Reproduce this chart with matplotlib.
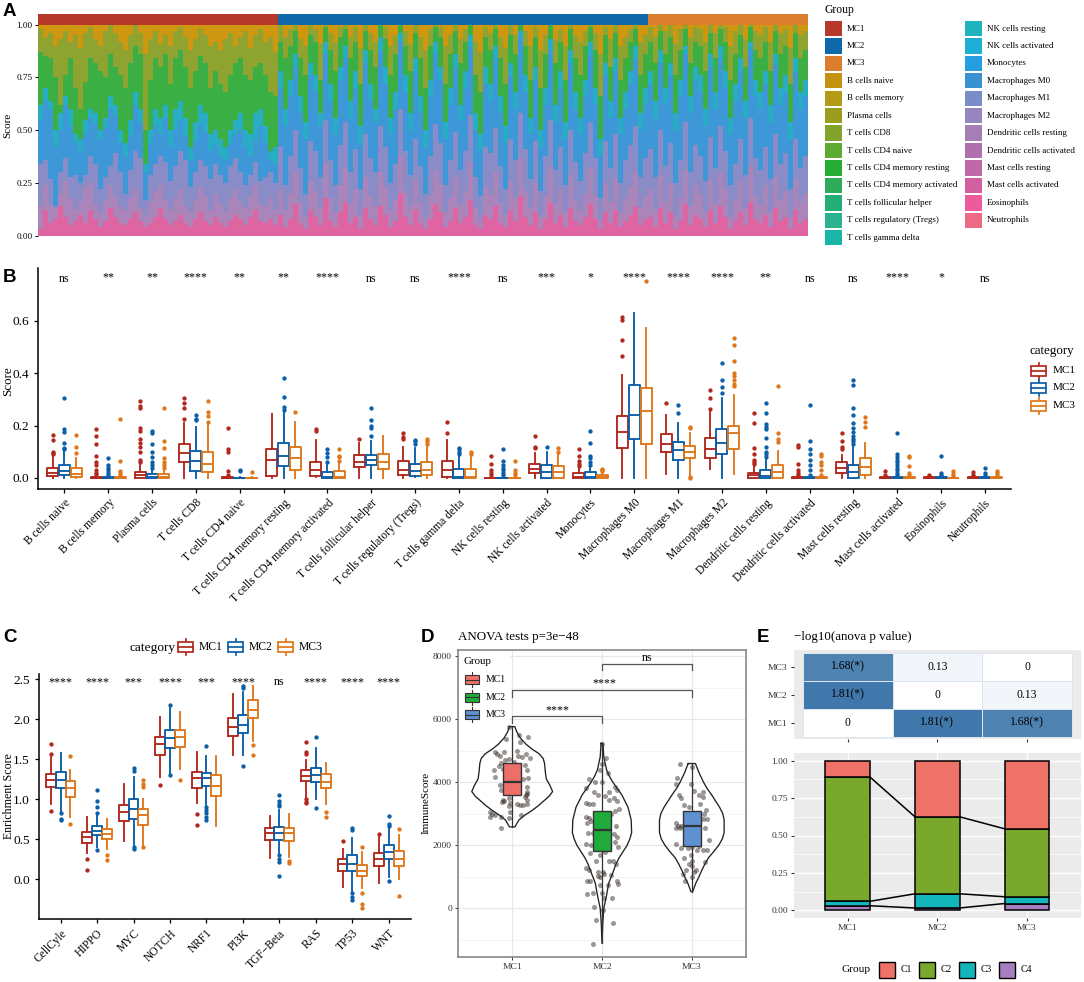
# -*- coding: utf-8 -*-
import matplotlib
matplotlib.use('Agg')
import matplotlib.pyplot as plt
import numpy as np
from matplotlib.colors import LinearSegmentedColormap
from matplotlib.patches import Rectangle

plt.rcParams['font.family'] = ['Liberation Serif', 'DejaVu Serif']

WIDTH, HEIGHT = 1084, 982
GROUPS = ['MC1', 'MC2', 'MC3']
GROUP_COLORS = ['#B2281C', '#0A5FA8', '#E0761A']

# Panel A: legend
LEGEND_A_NAMES = ['MC1', 'MC2', 'MC3', 'B cells naive', 'B cells memory', 'Plasma cells',
                  'T cells CD8', 'T cells CD4 naive', 'T cells CD4 memory resting',
                  'T cells CD4 memory activated', 'T cells follicular helper',
                  'T cells regulatory (Tregs)', 'T cells gamma delta', 'NK cells resting',
                  'NK cells activated', 'Monocytes', 'Macrophages M0', 'Macrophages M1',
                  'Macrophages M2', 'Dendritic cells resting', 'Dendritic cells activated',
                  'Mast cells resting', 'Mast cells activated', 'Eosinophils', 'Neutrophils']
LEGEND_A_COLORS = ['#B5382A', '#0E68AA', '#DB7E2E', '#C4920F', '#B39B17', '#9C9C1F',
                   '#81A32B', '#5FAA32', '#25AE33', '#2FAC5A', '#23AE77', '#2BB28F',
                   '#18B5A8', '#1FB3BE', '#1DAED6', '#249EE0', '#3A92D1', '#7A8DC8',
                   '#9686C0', '#A57EB5', '#B070AE', '#C067A8', '#D25FA0', '#EC5C9D', '#EC6A85']

# Panel A: samples per group, cumulative band tops (percent)
SAMPLES_PER_GROUP = [48, 74, 32]
BAND_COLORS = ['#DE64A2', '#A985BA', '#8A8CC8', '#3E97D6', '#29ADC4', '#3BAF44', '#8FA430', '#CF960F']
TOP_PINK = [3, 12, 6, 8, 14, 9, 5, 7, 10, 6, 12, 8, 4, 7, 13, 9, 6, 5, 8, 11, 7, 4, 6, 9, 13, 8, 5, 7, 10, 6,
            4, 8, 11, 7, 5, 9, 6, 4, 7, 10, 8, 5, 9, 12, 7, 6, 8, 5,
            10, 4, 8, 15, 6, 3, 12, 9, 5, 18, 7, 4, 11, 16, 6, 9, 3, 13, 8, 5, 14, 10, 4, 7, 20, 9, 5, 12, 6, 3,
            8, 15, 11, 4, 7, 13, 6, 9, 17, 5, 3, 10, 8, 14, 6, 4, 12, 7, 19, 9, 5, 11, 3, 8, 16, 6, 10, 4, 13, 7,
            5, 9, 15, 8, 3, 11, 6, 12, 4, 7, 10, 14, 5, 8,
            9, 4, 13, 6, 11, 3, 7, 15, 5, 10, 8, 4, 12, 6, 14, 9, 3, 7, 11, 5, 16, 8, 6, 10, 4, 13, 7, 9, 3, 12, 6, 8]
TOP_MAUVE = [14, 24, 15, 13, 20, 26, 18, 12, 16, 23, 25, 15, 11, 17, 24, 19, 14, 12, 18, 22, 13, 10, 16, 21, 24,
             17, 12, 18, 22, 14, 11, 17, 23, 19, 12, 20, 15, 11, 18, 22, 16, 13, 19, 24, 15, 14, 18, 12,
             22, 12, 20, 30, 16, 9, 26, 21, 13, 34, 18, 11, 24, 32, 15, 22, 10, 28, 19, 14, 30, 23, 12, 17, 38,
             21, 14, 27, 16, 9, 19, 31, 25, 11, 18, 28, 15, 21, 35, 13, 8, 23, 20, 30, 16, 10, 26, 18, 37, 21,
             13, 25, 9, 19, 33, 15, 22, 11, 29, 17, 12, 20, 32, 19, 8, 25, 16, 27, 11, 18, 23, 30, 13, 19,
             22, 12, 29, 16, 25, 10, 18, 31, 14, 24, 20, 11, 27, 15, 30, 22, 9, 17, 26, 13, 33, 19, 15, 24, 11,
             28, 17, 21, 9, 27, 16, 20]
TOP_PERIWINKLE = [34, 36, 27, 14, 30, 37, 28, 29, 25, 29, 38, 34, 22, 28, 33, 39, 30, 20, 31, 40, 37, 17, 29, 34,
                  38, 35, 26, 33, 40, 36, 23, 30, 36, 33, 27, 34, 29, 25, 33, 37, 30, 24, 29, 35, 26, 28, 30, 25,
                  42, 24, 38, 50, 32, 20, 45, 40, 28, 55, 36, 24, 43, 54, 30, 41, 22, 48, 37, 30, 52, 42, 25, 34,
                  60, 40, 29, 46, 33, 20, 38, 53, 44, 24, 36, 49, 31, 40, 57, 28, 19, 42, 39, 51, 33, 22, 46, 36,
                  58, 41, 27, 45, 21, 38, 55, 31, 42, 24, 50, 35, 26, 39, 54, 37, 18, 45, 32, 48, 25, 36, 43, 52,
                  28, 37,
                  41, 28, 50, 33, 44, 25, 36, 54, 30, 43, 38, 26, 47, 32, 52, 40, 24, 34, 46, 29, 56, 37, 31, 42,
                  27, 48, 34, 39, 22, 46, 32, 38]
TOP_BLUE = [55, 64, 60, 42, 50, 62, 52, 44, 40, 48, 56, 53, 46, 51, 60, 57, 44, 38, 47, 62, 54, 30, 44, 52, 48, 56,
            42, 50, 55, 47, 36, 45, 53, 49, 40, 43, 38, 36, 44, 48, 50, 42, 38, 46, 52, 44, 36, 34,
            70, 52, 66, 80, 58, 46, 76, 68, 52, 86, 64, 48, 74, 84, 56, 70, 44, 82, 65, 54, 88, 72, 48, 60, 92, 68,
            50, 78, 58, 42, 66, 86, 74, 46, 62, 80, 55, 70, 90, 50, 40, 72, 64, 84, 58, 44, 76, 60, 94, 68, 48, 74,
            42, 62, 88, 54, 70, 46, 82, 60, 48, 66, 86, 62, 38, 76, 56, 78, 48, 60, 72, 84, 50, 62,
            72, 56, 82, 62, 76, 50, 66, 86, 58, 74, 68, 52, 80, 60, 84, 70, 48, 64, 78, 56, 88, 66, 60, 72, 54, 82,
            62, 68, 46, 78, 60, 66]
TOP_TEAL = [62, 70, 64, 50, 58, 66, 60, 48, 46, 55, 60, 58, 50, 56, 66, 62, 50, 44, 55, 68, 60, 34, 50, 60, 56, 62,
            50, 60, 64, 56, 42, 54, 62, 58, 48, 50, 46, 42, 50, 55, 58, 50, 48, 58, 60, 52, 40, 42,
            78, 60, 74, 86, 66, 54, 82, 76, 58, 92, 72, 56, 80, 90, 64, 78, 52, 88, 72, 60, 94, 80, 56, 68, 96, 76,
            58, 84, 66, 50, 74, 92, 80, 54, 70, 86, 62, 78, 95, 58, 48, 80, 72, 90, 66, 52, 82, 68, 97, 76, 56, 80,
            50, 70, 93, 62, 78, 54, 88, 68, 56, 74, 92, 70, 46, 82, 64, 84, 56, 68, 78, 90, 58, 70,
            78, 64, 88, 70, 82, 58, 74, 90, 66, 80, 76, 60, 86, 68, 90, 78, 56, 72, 84, 64, 92, 74, 68, 78, 62, 86,
            70, 76, 54, 84, 68, 74]
TOP_GREEN = [87, 85, 84, 75, 62, 76, 84, 70, 60, 73, 84, 82, 78, 75, 86, 80, 76, 70, 82, 90, 86, 50, 74, 84, 80, 86,
             72, 84, 88, 80, 70, 78, 85, 82, 70, 78, 72, 68, 76, 82, 84, 76, 74, 80, 82, 76, 68, 66,
             92, 84, 90, 97, 84, 76, 95, 92, 74, 99, 88, 78, 94, 98, 84, 92, 72, 97, 88, 80, 100, 93, 76, 86, 100, 90,
             78, 96, 84, 70, 90, 99, 94, 72, 86, 97, 82, 92, 100, 76, 68, 94, 88, 98, 84, 72, 95, 86, 100, 90, 74, 94,
             70, 86, 100, 82, 92, 74, 98, 84, 76, 90, 99, 88, 66, 95, 80, 96, 74, 84, 92, 98, 76, 86,
             92, 82, 97, 86, 94, 76, 88, 98, 82, 92, 90, 78, 96, 84, 98, 92, 74, 86, 95, 80, 99, 88, 84, 92, 78, 97,
             86, 90, 72, 96, 84, 88]
TOP_OLIVE = [98, 94, 96, 90, 93, 97, 92, 95, 89, 96, 99, 93, 90, 97, 100, 96, 92, 88, 95, 100, 96, 86, 93, 97, 91, 95,
             90, 97, 99, 94, 88, 93, 98, 95, 90, 92, 88, 93, 96, 90, 94, 97, 89, 95, 98, 92, 94, 87,
             100, 94, 98, 100, 93, 90, 100, 98, 91, 100, 96, 92, 99, 100, 94, 99, 89, 100, 96, 92, 100, 99, 90, 95,
             100, 97, 91, 100, 94, 88, 98, 100, 99, 90, 95, 100, 93, 98, 100, 92, 87, 99, 96, 100, 94, 89, 100, 95,
             100, 97, 90, 99, 88, 95, 100, 93, 98, 90, 100, 95, 92, 97, 100, 96, 86, 99, 93, 100, 90, 94, 98, 100, 92, 95,
             99, 94, 100, 97, 100, 91, 98, 100, 94, 99, 98, 92, 100, 96, 100, 99, 90, 97, 100, 93, 100, 97, 95, 99,
             92, 100, 96, 98, 89, 100, 95, 97]

# Panel B: (whisker low, q1, median, q3, whisker high, outliers)
CELL_TYPES = LEGEND_A_NAMES[3:]
B_SIGNIF = ['ns', '**', '**', '****', '**', '**', '****', 'ns', 'ns', '****', 'ns', '***', '*',
            '****', '****', '****', '**', 'ns', 'ns', '****', '*', 'ns']
B_MC1 = [(0, .008, .02, .04, .08, [.09, .095, .10, .145, .165]),
         (0, 0, 0, .004, .01, [.015, .02, .03, .05, .06, .085, .13, .16, .185]),
         (0, 0, .01, .024, .05, [.06, .07, .1, .12, .135, .15, .18, .19, .265, .275, .295]),
         (0, .062, .095, .128, .21, [.225, .265, .285, .305]),
         (0, 0, 0, .002, .005, [.01, .025, .1, .11, .19]),
         (0, .008, .07, .11, .245, []),
         (.003, .007, .03, .062, .145, [.18, .185]),
         (0, .043, .06, .087, .135, [.15]),
         (0, .013, .032, .065, .12, [.15, .155, .17]),
         (0, .002, .032, .065, .145, [.17, .215]),
         (0, 0, 0, .001, .003, [.01, .02, .03, .055, .085]),
         (0, .018, .035, .055, .095, [.115, .12, .16]),
         (0, 0, .004, .02, .04, [.045, .055, .065, .083, .11]),
         (0, .115, .175, .237, .394, [.466, .525, .603, .613]),
         (.016, .10, .13, .166, .239, [.286]),
         (.035, .077, .111, .151, .25, [.262, .306, .334]),
         (0, 0, .01, .02, .05, [.055, .06, .07, .09, .115, .211, .246]),
         (0, 0, 0, .002, .005, [.01, .02, .03, .055, .12, .125]),
         (0, .018, .039, .061, .086, [.11, .12, .14, .171]),
         (0, 0, 0, .002, .005, [.012, .025]),
         (0, 0, 0, .002, .004, [.008, .012]),
         (0, 0, 0, .002, .004, [.008, .012, .024])]
B_MC2 = [(0, .01, .025, .048, .10, [.11, .115, .135, .175, .185, .305]),
         (0, 0, 0, .003, .008, [.012, .02, .03, .04, .05, .075]),
         (0, 0, .003, .014, .03, [.04, .05, .06, .08, .1, .13, .17, .18]),
         (0, .027, .064, .102, .195, [.22, .225, .24]),
         (0, 0, 0, .001, .003, [.025, .032]),
         (0, .045, .085, .132, .255, [.26, .27, .31, .38]),
         (0, 0, .003, .022, .05, [.06, .08, .095, .11]),
         (0, .048, .067, .087, .14, [.16, .19, .2, .22, .265]),
         (.002, .007, .025, .052, .115, [.13, .14, .145]),
         (0, 0, .003, .035, .08, [.09, .1, .11, .115]),
         (0, 0, 0, .001, .003, [.01, .02, .03, .04, .05, .065, .11]),
         (0, 0, .023, .048, .10, [.12]),
         (0, 0, .004, .022, .04, [.05, .06, .075, .085, .133, .178]),
         (0, .149, .239, .356, .627, []),
         (0, .068, .106, .139, .208, [.249, .278]),
         (0, .091, .133, .185, .305, [.324, .347, .372, .44]),
         (0, 0, .006, .032, .07, [.08, .09, .1, .12, .152, .185, .195, .204, .249, .287]),
         (0, 0, 0, .002, .005, [.01, .03, .05, .07, .09, .11, .142, .278]),
         (0, 0, .023, .049, .118, [.13, .14, .15, .16, .175, .19, .21, .24, .267, .356, .375]),
         (0, 0, 0, .003, .006, [.01, .02, .03, .04, .05, .06, .07, .08, .09, .17]),
         (0, 0, 0, .002, .004, [.008, .012, .02, .085]),
         (0, 0, 0, .002, .004, [.01, .02, .04])]
B_MC3 = [(0, .005, .015, .038, .075, [.095, .12, .165]),
         (0, 0, 0, .002, .005, [.01, .02, .025, .065, .225]),
         (0, 0, .004, .015, .03, [.04, .05, .06, .075, .115, .14, .265]),
         (0, .024, .055, .10, .205, [.215, .235, .25, .295]),
         (0, 0, 0, .001, .002, [.024]),
         (0, .032, .075, .12, .215, [.25]),
         (0, 0, .005, .025, .055, [.065, .08, .085, .11]),
         (0, .034, .062, .09, .16, []),
         (0, .01, .032, .06, .12, [.13, .14, .15]),
         (0, 0, .002, .034, .08, [.09, .10]),
         (0, 0, 0, .001, .002, [.01, .02, .03, .065]),
         (0, 0, .022, .044, .09, [.10, .115]),
         (0, 0, .002, .01, .02, [.025, .03, .035]),
         (0, .128, .254, .343, .571, [.752]),
         (.008, .075, .099, .122, .172, [0, .005, .19, .194]),
         (.016, .109, .171, .197, .318, [.349, .36, .375, .39, .40, .445, .508, .535]),
         (0, .001, .023, .049, .103, [.137, .15, .17, .349]),
         (0, 0, 0, .002, .005, [.01, .03, .05, .06, .085, .09]),
         (.001, .011, .043, .075, .135, [.195, .213, .233]),
         (0, 0, 0, .002, .005, [.01, .02, .045, .08, .085]),
         (0, 0, 0, .001, .003, [.008, .015, .025]),
         (0, 0, 0, .002, .004, [.01, .02, .025])]

# Panel C
PATHWAYS = ['CellCyle', 'HIPPO', 'MYC', 'NOTCH', 'NRF1', 'PI3K', 'TGF\u2212Beta', 'RAS', 'TP53', 'WNT']
C_SIGNIF = ['****', '****', '***', '****', '***', '****', 'ns', '****', '****', '****']
C_MC1 = [(.94, 1.158, 1.24, 1.317, 1.53, [.85, 1.56, 1.69]),
         (.33, .46, .533, .59, .775, [.12, .26]),
         (.485, .73, .845, .93, 1.19, []),
         (1.275, 1.555, 1.69, 1.775, 2.025, [1.18]),
         (.95, 1.14, 1.26, 1.345, 1.595, [.68, .82]),
         (1.55, 1.79, 1.905, 2.015, 2.32, []),
         (.27, .49, .575, .64, .795, []),
         (1.03, 1.225, 1.29, 1.36, 1.49, [.96, .97, 1.01, 1.56, 1.595, 1.72]),
         (-.09, .11, .19, .26, .385, [.48]),
         (-.04, .165, .255, .33, .555, [.565])]
C_MC2 = [(.846, 1.14, 1.24, 1.34, 1.58, [.74, .76, .83]),
         (.41, .55, .61, .667, .825, [.37, .83, .91, .98, 1.12]),
         (.43, .76, .875, 1.0, 1.28, [.38, .41, 1.35, 1.39]),
         (1.325, 1.64, 1.76, 1.86, 2.14, [1.30, 2.18]),
         (.93, 1.16, 1.26, 1.33, 1.545, [.74, .78, .825, .87, .91, 1.665]),
         (1.55, 1.83, 1.93, 2.055, 2.345, [1.42, 2.39, 2.42]),
         (.325, .495, .575, .66, .865, [.045, .22, .26, .30, .915, .94, .98, 1.05]),
         (1.0, 1.21, 1.30, 1.395, 1.64, [.895, 1.78]),
         (-.155, .11, .195, .30, .52, [-.26, -.22, -.175, .62, .64]),
         (.03, .255, .345, .43, .65, [-.02, .665, .69, .79])]
C_MC3 = [(.775, 1.03, 1.14, 1.23, 1.37, [.69, 1.54]),
         (.38, .51, .57, .63, .755, [.24, .31]),
         (.41, .68, .80, .875, 1.01, [.40, 1.15, 1.19, 1.24]),
         (1.375, 1.655, 1.78, 1.87, 2.095, [1.24]),
         (.67, 1.04, 1.17, 1.305, 1.54, []),
         (1.73, 2.02, 2.115, 2.245, 2.42, [1.55, 1.675]),
         (.28, .475, .575, .64, .82, [.20, .235]),
         (.945, 1.145, 1.21, 1.31, 1.45, [.785, .84]),
         (-.11, .045, .11, .185, .345, [-.36, -.31, -.165, .41]),
         (.01, .17, .25, .36, .56, [-.205, .63])]

# Panel D: violin outlines as (score, half width)
VIOLIN_MC1 = [(5760, .03), (5600, .05), (5400, .09), (5200, .155), (5050, .22), (4900, .30), (4750, .345),
              (4600, .36), (4300, .37), (4100, .38), (3900, .42), (3700, .45), (3550, .41), (3400, .35),
              (3250, .29), (3100, .22), (2950, .14), (2800, .075), (2580, .03)]
VIOLIN_MC2 = [(5230, .01), (4800, .02), (4400, .05), (4200, .08), (4000, .12), (3800, .17), (3600, .22),
              (3200, .29), (2800, .325), (2400, .33), (2200, .31), (2000, .28), (1800, .235), (1600, .19),
              (1400, .155), (1200, .13), (800, .075), (400, .05), (0, .02), (-500, .008), (-1110, 0)]
VIOLIN_MC3 = [(4590, .04), (4450, .06), (4300, .08), (4000, .13), (3800, .17), (3600, .22), (3400, .265),
              (3200, .31), (3000, .345), (2800, .36), (2400, .36), (2200, .34), (2000, .30), (1800, .245),
              (1600, .185), (1400, .145), (1200, .11), (1000, .08), (800, .045), (530, .01)]
# (q1, median, q3), whiskers run the full violin
D_BOXES = [(3594, 4020, 4620), (1820, 2490, 3090), (1980, 2600, 3080)]
D_FILLS = ['#EE6F68', '#1FAA3C', '#5F90D0']
D_DOTS_MC1 = [(-.04, 5740), (.08, 5480), (.18, 5430), (-.07, 5380), (.09, 5280), (-.09, 4950), (-.19, 4950),
              (-.17, 4880), (.15, 4880), (-.14, 4830), (.05, 4980), (.2, 4780), (.07, 4820), (-.08, 4700),
              (-.03, 4720), (-.12, 4600), (.02, 4650), (.14, 4530), (-.2, 4380), (-.15, 4500), (-.1, 4420),
              (.17, 4370), (-.19, 4150), (-.07, 4200), (.18, 4130), (.12, 4100), (-.14, 3920), (.03, 4180),
              (.17, 3850), (-.12, 3750), (.16, 3680), (.07, 3790), (.17, 3620), (-.1, 3440), (-.03, 3490),
              (.14, 3530), (-.09, 3400), (-.02, 3330), (.05, 3300), (.12, 3290), (.17, 3300), (-.04, 3230),
              (.09, 3280), (-.25, 3050), (-.22, 2990), (-.19, 2950), (.1, 2970), (-.02, 3050), (-.25, 2890),
              (-.04, 2870), (-.12, 2880), (-.13, 2560), (.15, 3590), (.16, 3420), (-.11, 3380), (.11, 4800)]
D_DOTS_MC2 = [(.0, 5200), (.04, 4760), (.0, 4560), (-.02, 4400), (.07, 4300), (-.14, 4100), (-.08, 4000), (.0, 4000),
              (.15, 3840), (-.18, 3800), (-.09, 3680), (.08, 3700), (.17, 3750), (.03, 3560), (-.04, 3600),
              (.13, 3500), (-.18, 3330), (-.14, 3300), (-.1, 3300), (.17, 3400), (.08, 3420), (-.18, 2900),
              (-.14, 2850), (.14, 3100), (.19, 3150), (.1, 3000), (-.17, 2700), (-.12, 2780), (.16, 2600),
              (-.16, 2400), (-.1, 2400), (.13, 2340), (.17, 2250), (-.18, 2030), (-.12, 2000), (.14, 2100),
              (.18, 1930), (-.13, 1750), (-.07, 1500), (.08, 1500), (.12, 1510), (.16, 1410), (-.18, 1280),
              (-.14, 1220), (-.05, 1150), (.01, 1150), (.02, 1100), (.1, 1040), (-.04, 1030), (-.02, 1000),
              (-.17, 850), (-.13, 870), (.17, 850), (.18, 780), (-.1, 500), (-.17, 440), (.0, 500), (.07, 740),
              (-.02, 730), (.11, 330), (-.09, 30), (.01, -50), (-.07, -380), (.12, -480), (-.1, -1120), (.02, 320),
              (.05, 2600), (-.03, 2900), (.06, 2200), (-.06, 2100), (-.02, 1700), (.03, 1800)]
D_DOTS_MC3 = [(-.13, 4570), (.0, 4470), (-.17, 4140), (-.18, 3950), (-.01, 3950), (.02, 3730), (-.14, 3580),
              (-.12, 3500), (.12, 3690), (.08, 3580), (.13, 3520), (.09, 3300), (-.09, 3280), (.16, 3130),
              (.14, 3000), (-.03, 3200), (.17, 2840), (.12, 2830), (-.18, 2700), (-.13, 2560), (-.15, 2620),
              (.15, 2540), (.08, 2640), (-.18, 2550), (-.12, 2620), (.19, 2180), (.08, 1990), (.12, 1850),
              (.17, 1850), (-.18, 2050), (-.12, 1920), (-.04, 1900), (.06, 1850), (.0, 1950), (-.01, 1700),
              (-.09, 1580), (.0, 1510), (.15, 1480), (-.03, 1420), (.0, 1350), (-.06, 1200), (.05, 1200),
              (.02, 1150), (-.1, 1100), (.0, 1000), (-.08, 850)]

# Panel E
HEAT_VALUES = [[0, 1.81, 1.68], [1.81, 0, 0.13], [1.68, 0.13, 0]]
HEAT_LABELS = [['0', '1.81(*)', '1.68(*)'], ['1.81(*)', '0', '0.13'], ['1.68(*)', '0.13', '0']]
CLUSTERS = ['C1', 'C2', 'C3', 'C4']
CLUSTER_COLORS = ['#EE7267', '#7AA82C', '#15B5BC', '#A77FC0']
CLUSTER_C1 = [.11, .375, .455]
CLUSTER_C2 = [.83, .515, .455]
CLUSTER_C3 = [.03, .095, .045]
CLUSTER_C4 = [.03, .015, .045]


def px_axes(fig, left, top, right, bottom):
    """Add axes from pixel edges measured from the top left corner."""
    return fig.add_axes([left / WIDTH, 1 - bottom / HEIGHT,
                         (right - left) / WIDTH, (bottom - top) / HEIGHT])


def draw_grouped_boxes(ax, groups_stats, width):
    """Draw three dodged boxplots per category from summary statistics."""
    for offset, stats, color in zip([-.27, 0, .27], groups_stats, GROUP_COLORS):
        rows = [dict(whislo=s[0], q1=s[1], med=s[2], q3=s[3], whishi=s[4], fliers=s[5]) for s in stats]
        positions = [i + 1 + offset for i in range(len(rows))]
        line = dict(color=color, linewidth=1.35)
        ax.bxp(rows, positions=positions, widths=width, showcaps=False, manage_ticks=False,
               boxprops=line, medianprops=line, whiskerprops=line,
               flierprops=dict(marker='o', markersize=2.1, markerfacecolor=color,
                               markeredgecolor=color, linewidth=0))


def classic_axes(ax, labels):
    """Left and bottom lines only, with rotated category labels."""
    ax.spines['top'].set_visible(False)
    ax.spines['right'].set_visible(False)
    ax.spines['left'].set_linewidth(1.1)
    ax.spines['bottom'].set_linewidth(1.1)
    ax.set_xlim(0.4, len(labels) + 0.6)
    ax.set_xticks(range(1, len(labels) + 1))
    ax.set_xticklabels(labels, rotation=45, ha='right', rotation_mode='anchor')
    ax.tick_params(axis='both', length=3, width=.9, labelsize=9.6)
    ax.tick_params(axis='x', labelsize=8.3, pad=3)


def box_key(overlay, x, y, color, edge=None, width=15, height=11, lw=1.25):
    """Legend key shaped like a small boxplot."""
    edge = edge or color
    overlay.plot([x + width / 2] * 2, [y - height / 2 - 3, y + height / 2 + 3], color=edge, lw=lw, zorder=3)
    overlay.add_patch(Rectangle((x, y - height / 2), width, height, facecolor=color, edgecolor=edge, lw=lw, zorder=4))
    overlay.plot([x, x + width], [y, y], color=edge, lw=lw, zorder=5)


def plot_panel_a(fig):
    ax = px_axes(fig, 37.7, 24.7, 808, 235.7)
    total = sum(SAMPLES_PER_GROUP)
    positions = np.arange(total)
    tops = [TOP_PINK, TOP_MAUVE, TOP_PERIWINKLE, TOP_BLUE, TOP_TEAL, TOP_GREEN, TOP_OLIVE, [100] * total]
    bottom = np.zeros(total)
    for top, color in zip(tops, BAND_COLORS):
        top = np.array(top) / 100
        ax.bar(positions, top - bottom, bottom=bottom, width=1.0, color=color, linewidth=0)
        bottom = top
    start = 0
    for count, color in zip(SAMPLES_PER_GROUP, LEGEND_A_COLORS):
        ax.bar(range(start, start + count), [.049] * count, bottom=1.0, width=1.0,
               color=color, linewidth=0, clip_on=False)
        start += count
    ax.set_xlim(-.5, total - .5)
    ax.set_ylim(0, 1)
    ax.set_xticks([])
    ax.set_yticks([0, .25, .5, .75, 1])
    ax.set_yticklabels(['0.00', '0.25', '0.50', '0.75', '1.00'])
    ax.tick_params(axis='y', length=2, width=.7, labelsize=6.6, pad=1.5)
    for spine in ax.spines.values():
        spine.set_visible(False)


def plot_panel_b(fig):
    ax = px_axes(fig, 38.1, 268, 1011.3, 488.5)
    draw_grouped_boxes(ax, [B_MC1, B_MC2, B_MC3], .25)
    classic_axes(ax, CELL_TYPES)
    ax.set_ylim(-.04, .8)
    ax.set_yticks([0, .2, .4, .6])
    ax.set_yticklabels(['0.0', '0.2', '0.4', '0.6'])
    for i, label in enumerate(B_SIGNIF):
        ax.text(i + 1, .757 if label == 'ns' else .766, label, ha='center', va='center', fontsize=8.6)


def plot_panel_c(fig):
    ax = px_axes(fig, 38.7, 674, 410.7, 919)
    draw_grouped_boxes(ax, [C_MC1, C_MC2, C_MC3], .27)
    classic_axes(ax, PATHWAYS)
    ax.set_ylim(-.496, 2.566)
    ax.set_yticks([0, .5, 1, 1.5, 2, 2.5])
    ax.set_yticklabels(['0.0', '0.5', '1.0', '1.5', '2.0', '2.5'])
    for i, label in enumerate(C_SIGNIF):
        ax.text(i + 1, 2.46, label, ha='center', va='center', fontsize=8.6)


def plot_panel_d(fig):
    ax = px_axes(fig, 458.3, 650, 745.7, 956.7)
    ax.set_xlim(.4, 3.6)
    ax.set_ylim(-1535, 8190)
    ax.set_xticks([1, 2, 3])
    ax.set_xticklabels(GROUPS)
    ax.set_yticks([0, 2000, 4000, 6000, 8000])
    ax.set_yticks([-1000, 1000, 3000, 5000, 7000], minor=True)
    ax.grid(which='major', color='#E8E8E8', lw=.9)
    ax.grid(which='minor', color='#F0F0F0', lw=.5)
    ax.set_axisbelow(True)
    ax.tick_params(axis='both', which='major', length=2.5, width=.7, labelsize=6.8, colors='#333333', pad=2)
    ax.tick_params(which='minor', length=0)
    for spine in ax.spines.values():
        spine.set_color('#7F7F7F')
        spine.set_linewidth(1.1)

    violins = [VIOLIN_MC1, VIOLIN_MC2, VIOLIN_MC3]
    dots = [D_DOTS_MC1, D_DOTS_MC2, D_DOTS_MC3]
    for i, (violin, pts, box, fill) in enumerate(zip(violins, dots, D_BOXES, D_FILLS)):
        pos = i + 1
        scores = [v[0] for v in violin]
        half = [v[1] for v in violin]
        ax.plot([pos - h for h in half] + [pos + h for h in half[::-1]] + [pos - half[0]],
                scores + scores[::-1] + [scores[0]], color='#222222', lw=.95, zorder=2)
        ax.scatter([pos + p[0] for p in pts], [p[1] for p in pts], s=13, color='#3A302C',
                   alpha=.5, linewidths=0, zorder=3)
        ax.plot([pos, pos], [scores[-1], scores[0]], color='#333333', lw=.9, zorder=4)
        ax.bxp([dict(whislo=box[0], q1=box[0], med=box[1], q3=box[2], whishi=box[2], fliers=[])],
               positions=[pos], widths=.2, showcaps=False, showfliers=False, manage_ticks=False,
               patch_artist=True, zorder=5,
               boxprops=dict(facecolor=fill, edgecolor='#333333', linewidth=1),
               medianprops=dict(color='#333333', linewidth=1.6),
               whiskerprops=dict(linewidth=0))

    brackets = [(1, 2, 6110, 5870, '****', 6270), (1, 3, 6925, 6710, '****', 7125), (2, 3, 7760, 7540, 'ns', 7945)]
    for x0, x1, level, tip, label, text_y in brackets:
        ax.plot([x0, x0, x1, x1], [tip, level, level, tip], color='#555555', lw=.9, zorder=6)
        ax.text((x0 + x1) / 2 + (.03 if label == '****' and x1 == 3 else 0), text_y, label, ha='center',
                va='center', fontsize=8.6, zorder=6)


def plot_panel_e(fig):
    heat = px_axes(fig, 794, 650, 1080.7, 739.3)
    cmap = LinearSegmentedColormap.from_list('heat', ['#FFFFFF', '#4178AB'])
    heat.set_facecolor('#EBEBEB')
    edges = [.5, 1.5, 2.5, 3.5]
    heat.pcolormesh(edges, edges, HEAT_VALUES, cmap=cmap, vmin=0, vmax=1.81, edgecolors='#DDE5EE', linewidth=.5)
    for r, row in enumerate(HEAT_LABELS):
        for c, text in enumerate(row):
            heat.text(c + 1, r + 1, text, ha='center', va='center', fontsize=8.4)
    heat.set_xlim(.4, 3.6)
    heat.set_ylim(.4, 3.6)
    heat.set_xticks([1, 2, 3])
    heat.set_xticklabels([])
    heat.set_yticks([1, 2, 3])
    heat.set_yticklabels(GROUPS)
    heat.tick_params(length=2.5, width=.8, labelsize=6.8, pad=2, colors='#333333')
    for spine in heat.spines.values():
        spine.set_visible(False)

    ax = px_axes(fig, 794, 753.3, 1080.7, 917.7)
    ax.set_facecolor('#EBEBEB')
    ax.set_xlim(.4, 3.6)
    ax.set_ylim(-.05, 1.05)
    ax.set_xticks([1, 2, 3])
    ax.set_xticklabels(GROUPS)
    ax.set_yticks([0, .25, .5, .75, 1])
    ax.set_yticklabels(['0.00', '0.25', '0.50', '0.75', '1.00'])
    ax.set_yticks([.125, .375, .625, .875], minor=True)
    ax.grid(which='major', color='white', lw=1)
    ax.grid(which='minor', color='white', lw=.5)
    ax.set_axisbelow(True)
    ax.tick_params(which='major', length=2.5, width=.8, labelsize=6.8, pad=2, colors='#333333')
    ax.tick_params(which='minor', length=0)
    for spine in ax.spines.values():
        spine.set_visible(False)
    shares = [CLUSTER_C4, CLUSTER_C3, CLUSTER_C2, CLUSTER_C1]
    colors = CLUSTER_COLORS[::-1]
    bottom = [0, 0, 0]
    for share, color in zip(shares, colors):
        ax.bar([1, 2, 3], share, bottom=bottom, width=.5, color=color, edgecolor='black', linewidth=1.1, zorder=3)
        bottom = [b + s for b, s in zip(bottom, share)]
        if color != colors[-1]:
            for x in (1, 2):
                ax.plot([x + .25, x + .75], [bottom[x - 1], bottom[x]], color='black', lw=1.1, zorder=2)


def plot_overlay(fig):
    overlay = fig.add_axes([0, 0, 1, 1], facecolor='none')
    overlay.set_xlim(0, WIDTH)
    overlay.set_ylim(HEIGHT, 0)
    overlay.axis('off')

    # panel letters
    letters = [('A', 3, 11), ('B', 3, 278), ('C', 3, 637), ('D', 421, 637), ('E', 757, 637)]
    for letter, x, y in letters:
        overlay.text(x, y, letter, family='Liberation Sans', weight='bold', fontsize=13.5, va='center')

    overlay.text(8, 125, 'Score', rotation=90, ha='center', va='center', fontsize=8)
    overlay.text(8, 381, 'Score', rotation=90, ha='center', va='center', fontsize=9.4)
    overlay.text(9, 796.5, 'Enrichment Score', rotation=90, ha='center', va='center', fontsize=8.6)
    overlay.text(426, 803, 'ImmuneScore', rotation=90, ha='center', va='center', fontsize=8)

    # panel A legend
    overlay.text(824.3, 10, 'Group', va='center', fontsize=8.4)
    for i, (name, color) in enumerate(zip(LEGEND_A_NAMES, LEGEND_A_COLORS)):
        col, row = divmod(i, 13)
        key_x = 825 if col == 0 else 965
        y = 28.5 + row * 17.43
        overlay.add_patch(Rectangle((key_x, y - 7.7), 16.7, 15.4, facecolor=color, edgecolor='none'))
        overlay.text(key_x + 22, y, name, va='center', fontsize=6.5)

    # panel B legend
    overlay.text(1029, 351, 'category', va='center', fontsize=9.4)
    for i, (name, color) in enumerate(zip(GROUPS, GROUP_COLORS)):
        y = 370.5 + i * 17.5
        box_key(overlay, 1031, y, 'white', edge=color, height=10)
        overlay.text(1053, y, name, va='center', fontsize=8)

    # panel C legend
    overlay.text(129, 648, 'category', va='center', fontsize=9.6)
    for x, name, color in zip([178, 228, 278], GROUPS, GROUP_COLORS):
        box_key(overlay, x, 647, 'white', edge=color, height=10)
        overlay.text(x + 21, 647, name, va='center', fontsize=8.4)

    # panel D title and legend
    overlay.text(458, 637, 'ANOVA tests p=3e\u221248', va='center', fontsize=9.4)
    overlay.add_patch(Rectangle((460, 652), 50, 69, facecolor='white', edgecolor='none', zorder=2))
    overlay.text(463, 661, 'Group', va='center', fontsize=7.8, zorder=6)
    for i, (name, fill) in enumerate(zip(GROUPS, D_FILLS)):
        y = 679.5 + i * 17.5
        box_key(overlay, 465, y, fill, edge='#333333', width=14, height=9, lw=.8)
        overlay.text(486, y, name, va='center', fontsize=7, zorder=6)

    # panel E title and legend
    overlay.text(794, 637, '\u2212log10(anova p value)', va='center', fontsize=9.4)
    overlay.text(842, 970, 'Group', va='center', fontsize=8.2)
    for x, name, color in zip([878.5, 918.5, 958.5, 998.5], CLUSTERS, CLUSTER_COLORS):
        overlay.add_patch(Rectangle((x, 961.5), 16.7, 16.7, facecolor=color, edgecolor='black', lw=1))
        overlay.text(x + 22.5, 970, name, va='center', fontsize=7)


def main():
    fig = plt.figure(figsize=(WIDTH / 100, HEIGHT / 100), dpi=100)
    plot_panel_a(fig)
    plot_panel_b(fig)
    plot_panel_c(fig)
    plot_panel_d(fig)
    plot_panel_e(fig)
    plot_overlay(fig)
    fig.savefig('out.png', dpi=100)


if __name__ == '__main__':
    main()
